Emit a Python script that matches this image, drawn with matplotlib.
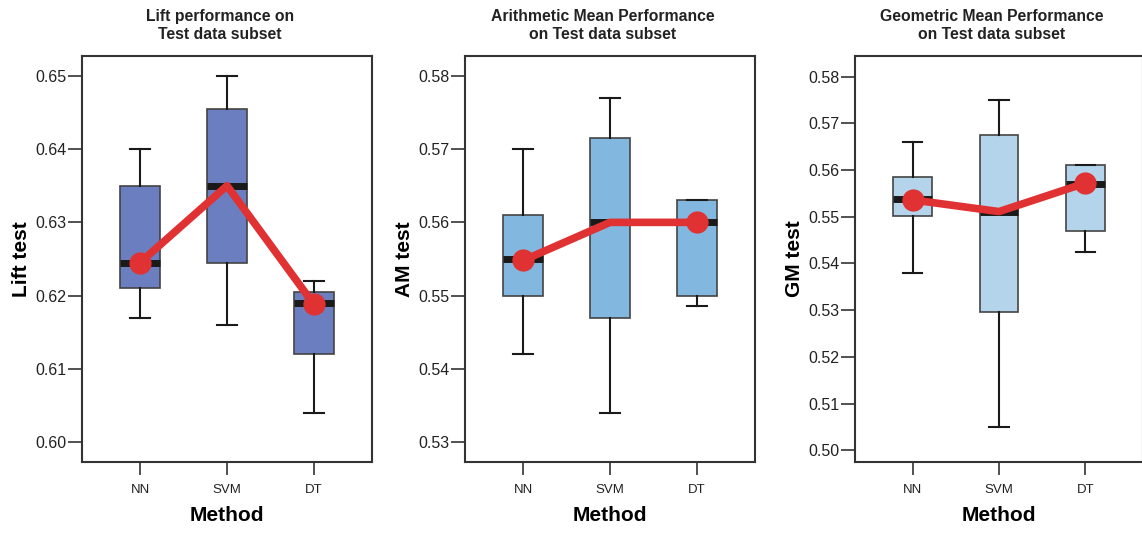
import matplotlib
matplotlib.use("Agg")
import matplotlib.pyplot as plt

plt.rcParams['font.family'] = ['Liberation Sans', 'DejaVu Sans']

methods = ["NN", "SVM", "DT"]

# box stats per panel: (whislo, q1, med, q3, whishi)
lift_stats = [(0.617, 0.621, 0.6245, 0.635, 0.640),
              (0.616, 0.6245, 0.635, 0.6455, 0.650),
              (0.604, 0.612, 0.619, 0.6205, 0.622)]
lift_means = [0.6245, 0.635, 0.6188]

am_stats = [(0.542, 0.550, 0.555, 0.561, 0.570),
            (0.534, 0.547, 0.560, 0.5715, 0.577),
            (0.5486, 0.550, 0.560, 0.563, 0.563)]
am_means = [0.5548, 0.560, 0.560]

gm_stats = [(0.538, 0.5501, 0.5537, 0.5585, 0.566),
            (0.505, 0.5296, 0.551, 0.5674, 0.575),
            (0.5425, 0.547, 0.557, 0.561, 0.561)]
gm_means = [0.5536, 0.5511, 0.5572]

titles = ["Lift performance on\nTest data subset",
          "Arithmetic Mean Performance\non Test data subset",
          "Geometric Mean Performance\non Test data subset"]
ylabels = ["Lift test", "AM test", "GM test"]
yticks = [[0.60, 0.61, 0.62, 0.63, 0.64, 0.65],
          [0.53, 0.54, 0.55, 0.56, 0.57, 0.58],
          [0.50, 0.51, 0.52, 0.53, 0.54, 0.55, 0.56, 0.57, 0.58]]
ylims = [(0.5973, 0.6527), (0.5273, 0.5827), (0.4975, 0.5844)]
colors = ["#6b7fc0", "#82b8e0", "#b4d4ec"]

panels = [(lift_stats, lift_means), (am_stats, am_means), (gm_stats, gm_means)]
lefts = [82, 465, 855]

W, H = 1142, 537
fig = plt.figure(figsize=(W / 100, H / 100), dpi=100)

for i, ((stats, means), left) in enumerate(zip(panels, lefts)):
    width = 290 if i < 2 else 288
    ax = fig.add_axes([left / W, 75 / H, width / W, 406 / H])
    bxp = []
    for m, s in zip(methods, stats):
        bxp.append(dict(label=m, whislo=s[0], q1=s[1], med=s[2], q3=s[3], whishi=s[4], fliers=[]))
    pos = [1, 2, 3]
    ax.bxp(bxp, positions=pos, widths=0.45, patch_artist=True, showfliers=False,
           boxprops=dict(facecolor=colors[i], edgecolor="#444444", linewidth=1.2),
           medianprops=dict(color="#1a1a1a", linewidth=5, solid_capstyle="butt"),
           whiskerprops=dict(color="#1a1a1a", linewidth=1.5),
           capprops=dict(color="#1a1a1a", linewidth=1.5),
           capwidths=0.22)
    ax.plot(pos, means, color="#e03232", linewidth=5.5, marker="o", markersize=15,
            markevery=[0, 2], zorder=5, solid_capstyle="butt")
    ax.set_xlim(0.333, 3.667)
    ax.set_ylim(*ylims[i])
    ax.set_yticks(yticks[i])
    ax.set_yticklabels([f"{t:.2f}" for t in yticks[i]])
    ax.set_xticks(pos)
    ax.set_xticklabels(methods)
    ax.tick_params(axis="y", length=10, width=1.2, color="#333333", labelsize=11.5, pad=1,
                   labelcolor="#222222")
    ax.tick_params(axis="x", length=9, width=1.2, color="#333333", labelsize=9.5, pad=7,
                   labelcolor="#222222")
    for sp in ax.spines.values():
        sp.set_color("#333333")
        sp.set_linewidth(1.5)
    ax.set_xlabel("Method", fontsize=15, fontweight="bold", labelpad=7)
    ax.set_ylabel(ylabels[i], fontsize=15, fontweight="bold", labelpad=3)
    ax.set_title(titles[i], fontsize=11.3, fontweight="bold", pad=12, x=0.475,
                 color="#222222", linespacing=1.25)

fig.savefig("out.png", dpi=100)
